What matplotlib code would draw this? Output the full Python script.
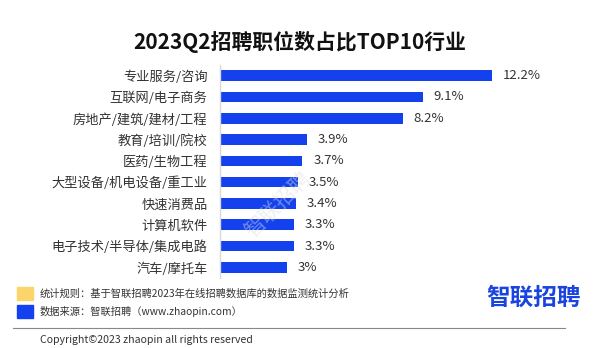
import matplotlib
matplotlib.use("Agg")
import matplotlib.pyplot as plt
from matplotlib.patches import Rectangle

plt.rcParams['font.family'] = ['Noto Sans CJK SC', 'DejaVu Sans']

industries = ["专业服务/咨询", "互联网/电子商务", "房地产/建筑/建材/工程", "教育/培训/院校",
              "医药/生物工程", "大型设备/机电设备/重工业", "快速消费品", "计算机软件",
              "电子技术/半导体/集成电路", "汽车/摩托车"]
shares = [12.2, 9.1, 8.2, 3.9, 3.7, 3.5, 3.4, 3.3, 3.3, 3.0]
share_labels = ["12.2%", "9.1%", "8.2%", "3.9%", "3.7%", "3.5%", "3.4%", "3.3%", "3.3%", "3%"]

title = "2023Q2招聘职位数占比TOP10行业"
note_rule = "统计规则：基于智联招聘2023年在线招聘数据库的数据监测统计分析"
note_source = "数据来源：智联招聘（www.zhaopin.com）"
copyright_text = "Copyright©2023 zhaopin all rights reserved"

blue = "#1341ee"
yellow = "#fcd46c"
text_col = "#333333"

fig = plt.figure(figsize=(6, 3.48), dpi=100)
W, H = 600, 348

ax = fig.add_axes([220 / W, 1 - 278 / H, 323 / W, 213 / H])
y = list(range(len(industries)))
ax.barh(y, shares, height=0.5, color=blue)
ax.set_ylim(9.5, -0.5)
ax.set_xlim(0, 14.5)
ax.set_yticks(y)
ax.set_yticklabels(industries, fontsize=9.5, color=text_col)
ax.tick_params(axis='y', length=0, pad=9)
ax.set_xticks([])
for s in ["top", "right", "bottom"]:
    ax.spines[s].set_visible(False)
ax.spines["left"].set_color("#d9d9d9")
ax.spines["left"].set_linewidth(1.0)

for yi, v, lab in zip(y, shares, share_labels):
    ax.annotate(lab, (v, yi), xytext=(8, 0), textcoords="offset points",
                va="center", ha="left", fontsize=9.5, color=text_col)

# faint watermark
fig.text(278 / W, 1 - 205 / H, "智联招聘", fontsize=15, color="#dddddd", alpha=0.45,
         rotation=45, ha="center", va="center")

fig.text(0.5, 1 - 42 / H, title, fontsize=15, fontweight="bold",
         ha="center", va="center", color="#111111")

# footer
fig.patches.append(Rectangle((17 / W, 1 - 300 / H), 16 / W, 13 / H,
                             transform=fig.transFigure, color=yellow))
fig.patches.append(Rectangle((17 / W, 1 - 318 / H), 16 / W, 13 / H,
                             transform=fig.transFigure, color=blue))
fig.text(40 / W, 1 - 293.5 / H, note_rule, fontsize=7.4, color=text_col, va="center")
fig.text(40 / W, 1 - 311.5 / H, note_source, fontsize=7.4, color=text_col, va="center")
fig.add_artist(plt.Line2D([13 / W, 565 / W], [1 - 328 / H] * 2,
                          transform=fig.transFigure, color="#888888", lw=0.8))
fig.text(40 / W, 1 - 340 / H, copyright_text, fontsize=7.6, color=text_col, va="center")
fig.text(534 / W, 1 - 298 / H, "智联招聘", fontsize=17, fontweight="bold",
         color="#1a44e0", ha="center", va="center")

fig.savefig("out.png", dpi=100, facecolor="white")
